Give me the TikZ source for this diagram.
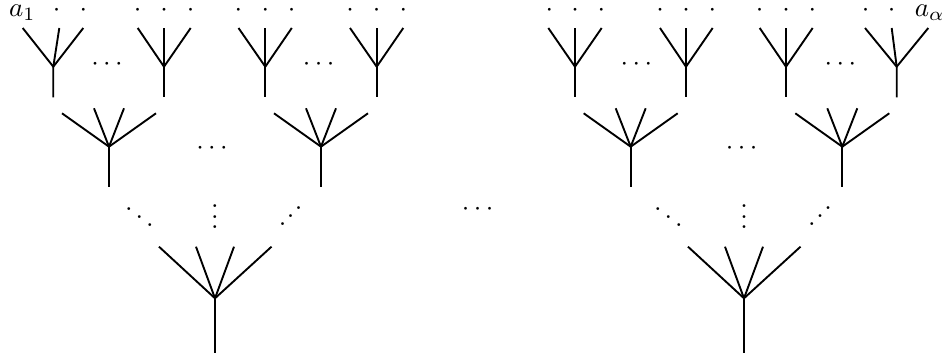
\documentclass[tikz,border=0pt]{standalone}
\usetikzlibrary{calc}
\newcommand\myiddots{\mathinner{\mkern1mu\raise1pt\hbox{.}\kern0.2pt\raise3.8pt\hbox{.}\kern0.2pt\raise6.6pt\hbox{.}\mkern1mu}}
% level-1 tree: name, centre x, left/middle/right arm-top x
\newcommand\levelone[5]{%
  \coordinate (#1) at (#2,66.7);
  \coordinate (#1-l) at (#3,28);
  \coordinate (#1-m) at (#4,28);
  \coordinate (#1-r) at (#5,28);
  \coordinate (#1-s) at (#2,97.3);
  \draw[branch] (#1-l) -- (#1) -- (#1-r);
  \draw[branch] (#1-m) -- (#1) -- (#1-s);}
% level-2 tree: name, centre x
\newcommand\leveltwo[2]{%
  \coordinate (#1) at (#2,146.7);
  \coordinate (#1-a) at (#2-47,113.3);
  \coordinate (#1-b) at (#2-15,108.3);
  \coordinate (#1-c) at (#2+15,108.3);
  \coordinate (#1-d) at (#2+47,113.3);
  \coordinate (#1-s) at (#2,186.7);
  \draw[branch] (#1-a) -- (#1) -- (#1-d);
  \draw[branch] (#1-b) -- (#1) -- (#1-c);
  \draw[branch] (#1) -- (#1-s);}
% level-3 tree: name, centre x
\newcommand\levelthree[2]{%
  \coordinate (#1) at (#2,298.3);
  \coordinate (#1-a) at (#2-56,246.7);
  \coordinate (#1-b) at (#2-19,246.7);
  \coordinate (#1-c) at (#2+19,246.7);
  \coordinate (#1-d) at (#2+56.5,246.7);
  \coordinate (#1-s) at (#2,352.7);
  \draw[branch] (#1-a) -- (#1) -- (#1-d);
  \draw[branch] (#1-b) -- (#1) -- (#1-c);
  \draw[branch] (#1) -- (#1-s);}
\begin{document}
\begin{tikzpicture}[x=0.3704pt,y=-0.3704pt,
  branch/.style={line width=0.7pt},
  dotnode/.style={inner sep=0pt,anchor=base,text height=3.1pt,text depth=0pt},
  labelnode/.style={inner sep=0pt,text height=4.4pt,text depth=1.5pt},
  tallnode/.style={inner sep=0pt,anchor=base,text height=9.1pt,text depth=0pt}]
\useasboundingbox (0,0) rectangle (945,358);

% top labels
\node[labelnode,anchor=base west] (a1) at (8.5,16.3) {$a_1$};
\node[labelnode,anchor=base east] (aalpha) at (945,16.3) {$a_\alpha$};
\foreach \x [count=\i] in {56.7,83.3,137.7,164,190.7,238.3,265.3,291.7,350,376.7,403.3,549.3,575,601.3,660,686,712.3,759.5,786,812.3,865.7,891.7}
  \node[dotnode] (top\i) at (\x,16.1) {$\cdot$};

% level 1
\levelone{t1}{53.3}{22.7}{59.3}{83.3}
\levelone{t2}{164}{137.7}{164}{190.7}
\levelone{t3}{265.3}{238.5}{265.3}{291.8}
\levelone{t4}{376.7}{350}{376.7}{403.3}
\levelone{t5}{575}{548.3}{575}{601.7}
\levelone{t6}{686}{660}{686}{712.7}
\levelone{t7}{786}{759.7}{786}{812.7}
\levelone{t8}{896.7}{865}{891.7}{928.3}
\foreach \x [count=\i] in {107,318.7,636.3,840.3}
  \node[dotnode] (c1\i) at (\x,70.05) {$\cdots$};

% level 2
\leveltwo{u1}{109}
\leveltwo{u2}{321}
\leveltwo{u3}{630.7}
\leveltwo{u4}{842.3}
\node[dotnode] (c21) at (212,154.75) {$\cdots$};
\node[dotnode] (c22) at (741.7,154.75) {$\cdots$};

% level 3
\levelthree{v1}{215}
\levelthree{v2}{744}
\node[tallnode] (dd1) at (139.3,229.5) {$\ddots$};
\node[tallnode] (vd1) at (215,228.9) {$\vdots$};
\node[tallnode] (id1) at (290.7,227.7) {$\myiddots$};
\node[tallnode] (dd2) at (668.3,229.3) {$\ddots$};
\node[tallnode] (vd2) at (744,228.9) {$\vdots$};
\node[tallnode] (id2) at (820,227.7) {$\myiddots$};
\node[dotnode] (mid) at (477.7,215.05) {$\cdots$};
\end{tikzpicture}
\end{document}
